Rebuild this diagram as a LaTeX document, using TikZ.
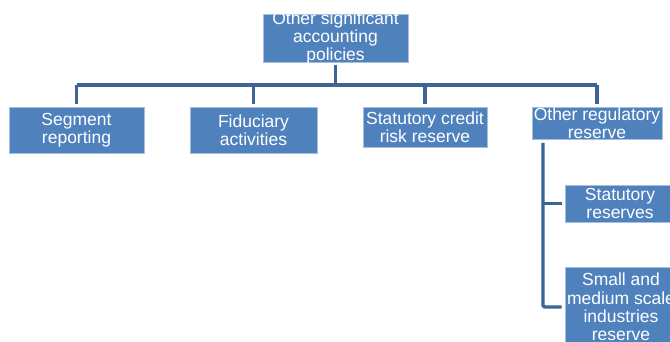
\documentclass[tikz,border=0pt]{standalone}
\usepackage{fontspec}
\setmainfont{Liberation Sans}
\definecolor{boxfill}{HTML}{4F81BD}
\definecolor{boxline}{HTML}{A7BFDE}
\definecolor{linecol}{HTML}{3D6497}
\begin{document}
\begin{tikzpicture}[x=1pt,y=-1pt,
  box/.style={rectangle,fill=boxfill,draw=boxline,line width=0.6pt,inner sep=0pt},
  txt/.style={text=white,align=center,inner sep=0pt,font=\fontsize{17.5}{18.4}\selectfont},
  conn/.style={draw=linecol,line width=3.3pt}]
\clip (0,0) rectangle (670,342);
\fill[white] (0,0) rectangle (670,342);
% boxes
\node[box,minimum width=145pt,minimum height=48pt,label={[txt]center:Other significant\\accounting\\policies}] (top) at (335.5,38) {};
\node[box,minimum width=135pt,minimum height=46pt,label={[txt]center:Segment\\reporting}] (seg) at (76.5,130) {};
\node[box,minimum width=127pt,minimum height=46pt,label={[txt]center:Fiduciary\\activities}] (fid) at (253.5,130) {};
\node[box,minimum width=124pt,minimum height=40pt,label={[txt]center:Statutory credit\\risk reserve}] (scr) at (425,127) {};
\node[box,minimum width=130pt,minimum height=32pt,label={[txt,yshift=-0.5pt]center:Other regulatory\\reserve}] (orr) at (597,123) {};
\node[box,minimum width=110pt,minimum height=37pt,label={[txt]center:Statutory\\reserves}] (sr) at (620,203.5) {};
\node[box,minimum width=112pt,minimum height=80pt,label={[txt]center:Small and\\medium scale\\industries\\reserve}] (smi) at (621,307) {};
% connectors
\coordinate (busL) at (77,85);
\coordinate (busR) at (597,85);
\coordinate (spineTop) at (543,143);
\draw[conn] (busL) -- (busR);
\draw[conn] ([yshift=-3pt]top.south) -- (top.south |- busL);
\foreach \n in {seg,fid,scr,orr}
  \draw[conn] (\n.north |- busL) -- ([yshift=3pt]\n.north);
\draw[conn,rounded corners=1.5pt] (spineTop) |- ([xshift=-3pt]smi.west);
\draw[conn] (spineTop |- sr.west) -- ([xshift=-3pt]sr.west);
\end{tikzpicture}
\end{document}
